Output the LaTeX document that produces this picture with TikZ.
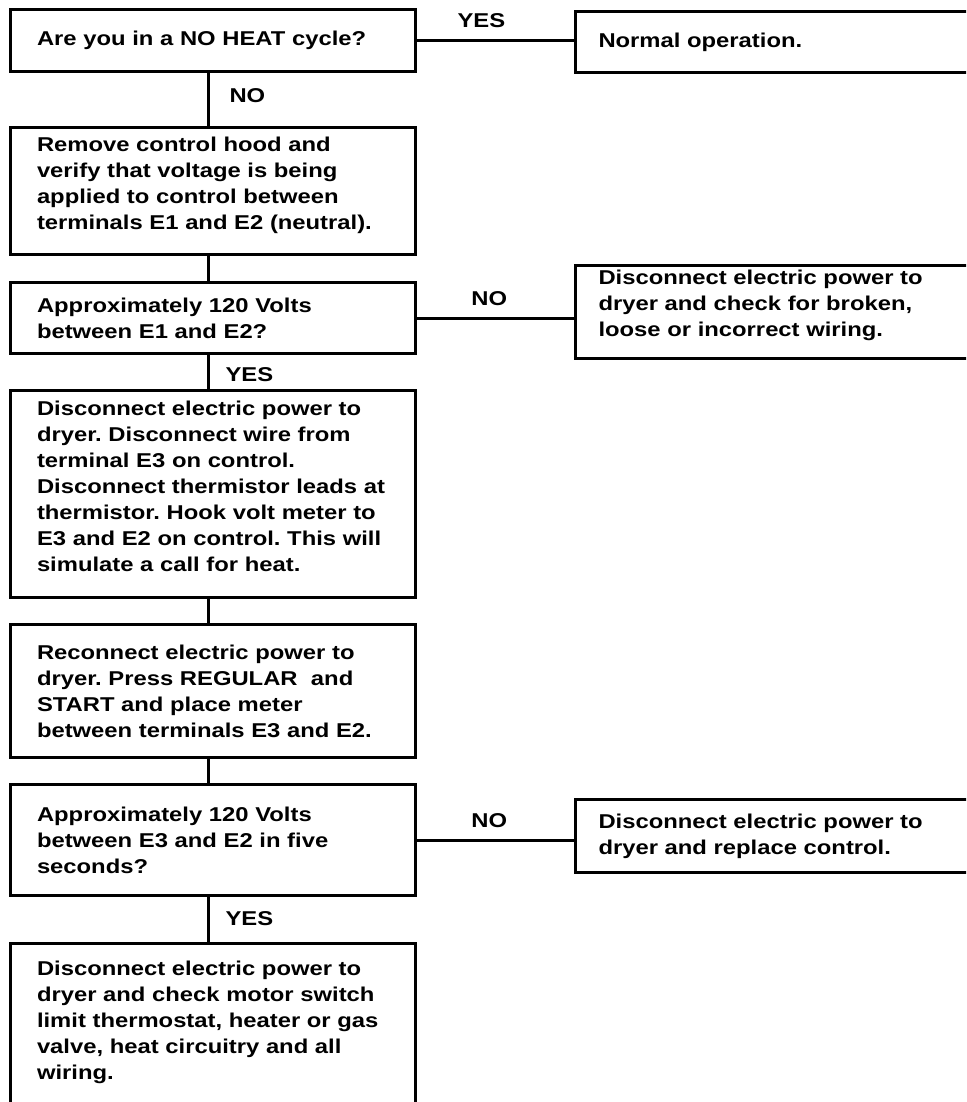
\documentclass[tikz,border=0pt]{standalone}
\usepackage{fontspec}
\setmainfont{Liberation Sans}[FakeStretch=1.19]
\frenchspacing
\begin{document}
\begin{tikzpicture}[x=1pt,y=-1pt,line width=3pt,
  font=\fontsize{20}{26}\selectfont\bfseries,
  stepbox/.style={draw,anchor=north west,align=left,inner ysep=0pt,inner xsep=26.5pt,text width=352pt,minimum width=405pt},
  sidebox/.style={draw,anchor=north west,align=left,inner ysep=0pt,inner xsep=23pt,text width=384pt,minimum width=430pt},
  answer/.style={inner sep=0pt}]
\useasboundingbox (0,0) rectangle (966,1102);
\clip (0,0) rectangle (966,1102);
\node[stepbox,minimum height=62pt] (cycle) at (9,8) {Are you in a NO HEAT cycle?};
\node[sidebox,minimum height=61pt] (normal) at (574,10) {Normal operation.};
\node[stepbox,minimum height=127pt,text depth=93pt] (hood) at (9,126) {Remove control hood and\\verify that voltage is being\\applied to control between\\terminals E1 and E2 (neutral).};
\node[stepbox,minimum height=71pt] (volts1) at (9,281) {Approximately 120 Volts\\between E1 and E2?};
\node[sidebox,minimum height=93pt,text depth=70pt] (wiring) at (574,264) {Disconnect electric power to\\dryer and check for broken,\\loose or incorrect wiring.};
\node[stepbox,minimum height=207pt,text depth=171pt] (leads) at (9,389) {Disconnect electric power to\\dryer. Disconnect wire from\\terminal E3 on control.\\Disconnect thermistor leads at\\thermistor. Hook volt meter to\\E3 and E2 on control. This will\\simulate a call for heat.};
\node[stepbox,minimum height=133pt] (regular) at (9,623) {Reconnect electric power to\\dryer. Press REGULAR\ \ and\\START and place meter\\between terminals E3 and E2.};
\node[stepbox,minimum height=111pt] (volts2) at (9,783) {Approximately 120 Volts\\between E3 and E2 in five\\seconds?};
\node[sidebox,minimum height=73pt] (control) at (574,798) {Disconnect electric power to\\dryer and replace control.};
\node[stepbox,minimum height=200pt,text depth=151pt] (motor) at (9,942) {Disconnect electric power to\\dryer and check motor switch\\limit thermostat, heater or gas\\valve, heat circuitry and all\\wiring.};
\draw (cycle.east) -- node[answer,pos=.41,above=11pt] {YES} (cycle.east -| normal.west);
\draw ([xshift=-5pt]cycle.south) -- node[answer,pos=.42,right=20pt] {NO} ([xshift=-5pt]hood.north);
\draw ([xshift=-5pt]hood.south) -- ([xshift=-5pt]volts1.north);
\draw (volts1.east) -- node[answer,pos=.46,above=11pt] {NO} (volts1.east -| wiring.west);
\draw ([xshift=-5pt]volts1.south) -- node[answer,pos=.57,right=16pt] {YES} ([xshift=-5pt]leads.north);
\draw ([xshift=-5pt]leads.south) -- ([xshift=-5pt]regular.north);
\draw ([xshift=-5pt]regular.south) -- ([xshift=-5pt]volts2.north);
\draw (volts2.east) -- node[answer,pos=.46,above=11pt] {NO} (volts2.east -| control.west);
\draw ([xshift=-5pt]volts2.south) -- node[answer,pos=.48,right=16pt] {YES} ([xshift=-5pt]motor.north);
\end{tikzpicture}
\end{document}
